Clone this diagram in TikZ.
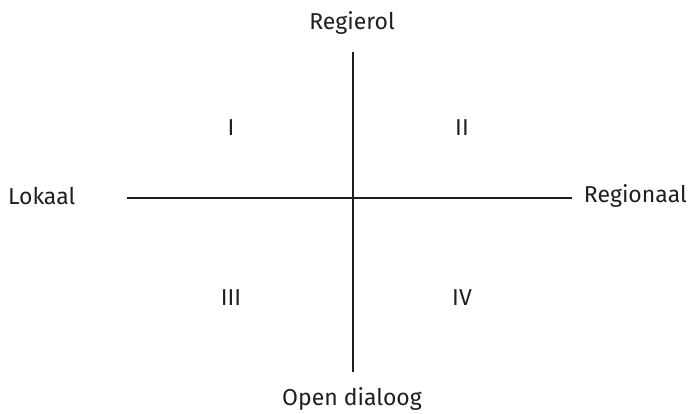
\documentclass[tikz,border=0pt]{standalone}
\usepackage{fontspec}
\setmainfont{Fira Sans}
\begin{document}
\begin{tikzpicture}[x=1pt,y=-1pt,
  lbl/.style={font=\fontsize{23}{27}\selectfont, text=black!88, inner sep=0pt},
  axis/.style={line width=2.4pt, draw=black!88}]
\useasboundingbox (0,0) rectangle (689,414);
\node[lbl] (top) at (352,23) {Regierol};
\node[lbl] (bot) at (352,399) {Open dialoog};
\node[lbl, anchor=west] (left) at (8,196) {Lokaal};
\node[lbl, anchor=east] (right) at (687,196) {Regionaal};
\coordinate (vt) at (353,52);
\coordinate (vb) at (353,372);
\coordinate (hl) at (127,198);
\coordinate (hr) at (572,198);
\draw[axis] (vt) -- (vb);
\draw[axis] (hl) -- (hr);
\node[lbl] (q1) at (231,128) {I};
\node[lbl] (q2) at (462,128) {II};
\node[lbl] (q3) at (231,298) {III};
\node[lbl] (q4) at (462,298) {IV};
\end{tikzpicture}
\end{document}
